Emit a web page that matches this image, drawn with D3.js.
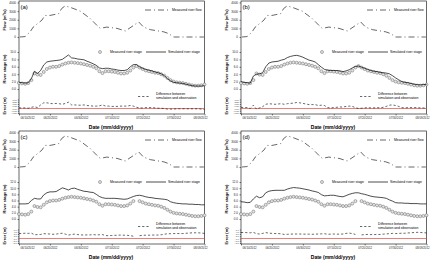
<!DOCTYPE html>
<html>
<head>
<meta charset="utf-8">
<script src="https://cdn.jsdelivr.net/npm/d3@7"></script>
<style>
  body { margin: 0; background: #fff; }
  svg { display: block; font-family: "Liberation Sans", Arial, sans-serif; }
</style>
</head>
<body>
<svg width="437" height="260"></svg>
<script>
// measured river flow (m3/s), sparse readings: day since start -> flow
const flowDay = [0.3, 2, 3.6, 4.6, 7.4, 8.4, 10, 12.8, 13.8, 14.9, 16.5, 19.8, 23, 25.2, 26.3, 28.4, 31.7, 34.4, 37.1, 38.7, 40.3, 42.5, 46.8, 48.4, 50, 54.4, 59.8];
const flowVal = [0, 50, 600, 1150, 1950, 2500, 2500, 2700, 3300, 3600, 3450, 3000, 2150, 1350, 1000, 1150, 1000, 700, 1350, 1750, 1150, 850, 600, 400, 0, 0, 0];

// daily river stage (m), day 0..60
const measuredStage = [1.6, 1.5, 1.4, 1.6, 2.4, 4.2, 3.9, 3.8, 4.6, 5.4, 5.8, 6.0, 6.0, 6.2, 6.6, 6.9, 7.1, 7.2, 7.1, 7.0,
  6.9, 6.7, 6.5, 6.3, 6.0, 5.6, 4.8, 4.3, 4.8, 4.8, 4.7, 4.6, 4.4, 4.2, 4.2, 4.4, 5.0, 5.8, 6.2, 5.8,
  5.4, 5.0, 4.8, 4.6, 4.4, 4.3, 4.0, 3.6, 3.0, 2.4, 2.0, 1.8, 1.7, 1.6, 1.4, 1.2, 1.0, 0.9, 0.9, 1.0, 1.2];
const simA = [1.8, 1.7, 1.6, 1.7, 2.8, 4.8, 4.2, 5.0, 6.5, 7.3, 7.5, 7.6, 7.7, 7.8, 8.0, 8.6, 9.2, 8.4, 8.3, 8.1,
  8.0, 7.9, 7.5, 7.2, 6.8, 6.4, 5.7, 5.5, 5.6, 5.6, 5.4, 5.3, 5.1, 5.0, 5.0, 5.2, 6.0, 6.6, 6.6, 6.0,
  5.6, 5.3, 5.1, 4.9, 4.6, 4.4, 4.1, 3.6, 2.8, 2.2, 1.8, 1.7, 1.6, 1.5, 1.3, 1.1, 0.9, 0.8, 0.8, 0.8, 0.9];
const simB = [2.0, 1.8, 1.7, 1.6, 3.5, 4.0, 4.1, 4.4, 6.0, 7.0, 7.3, 7.4, 7.5, 7.8, 8.0, 8.5, 8.8, 9.0, 9.1, 8.9,
  8.6, 8.2, 7.8, 7.6, 7.3, 6.6, 5.9, 5.3, 5.1, 5.0, 5.0, 5.0, 4.9, 4.7, 4.9, 5.2, 5.7, 6.1, 6.2, 5.9,
  5.6, 5.3, 5.0, 4.8, 4.7, 4.5, 4.4, 4.3, 4.1, 3.6, 3.0, 2.5, 2.0, 1.8, 1.7, 1.5, 1.3, 1.2, 1.1, 1.2, 1.2];
const simC = [4.9, 4.9, 4.9, 5.0, 6.0, 6.7, 6.5, 6.5, 7.8, 8.5, 8.8, 8.8, 8.9, 9.5, 10.1, 9.8, 9.4, 9.9, 10.0, 9.6,
  9.3, 9.0, 8.9, 8.7, 8.6, 8.0, 7.3, 6.9, 6.7, 6.7, 6.7, 6.7, 6.6, 6.5, 6.4, 6.5, 6.9, 7.3, 7.6, 7.7,
  7.5, 7.2, 7.0, 6.9, 6.7, 6.6, 6.5, 6.4, 6.2, 5.6, 5.3, 5.1, 5.0, 4.9, 4.9, 4.8, 4.8, 4.7, 4.7, 4.6, 4.6];
const simD = [5.6, 5.5, 5.3, 5.4, 6.5, 7.4, 6.9, 7.2, 8.5, 9.0, 9.2, 9.3, 9.3, 9.3, 9.3, 9.7, 10.0, 10.2, 10.1, 10.0,
  9.8, 9.6, 9.4, 9.1, 8.9, 8.6, 7.9, 7.5, 7.6, 7.7, 7.7, 7.5, 7.3, 7.2, 7.6, 8.0, 8.3, 8.5, 8.5, 8.2,
  8.0, 7.7, 7.4, 7.2, 7.1, 7.0, 6.9, 6.7, 6.2, 5.8, 5.3, 5.2, 5.2, 5.1, 5.1, 5.0, 5.0, 5.0, 4.9, 4.9, 4.9];

// x axis ticks
const dateTickDays = [0, 10, 20, 30, 40, 50, 60];
const dateLabels = ['06/10/2012', '06/20/2012', '06/30/2012', '07/10/2012', '07/20/2012', '07/30/2012', '08/09/2012'];
const flowTicks = [0, 1000, 2000, 3000, 4000];

const panels = [
  {label: '(a)', ox: 0, oy: 0, sim: simA, stageMax: 10, err: [-1.5, 3], errStep: 0.75, errFmt: '.2f', gap: []},
  {label: '(b)', ox: 222, oy: 0, sim: simB, stageMax: 10, err: [-1.5, 3], errStep: 0.75, errFmt: '.2f', gap: []},
  {label: '(c)', ox: 0, oy: 130, sim: simC, stageMax: 12, err: [-3, 6], errStep: 1.5, errFmt: '.1f', gap: [38]},
  {label: '(d)', ox: 222, oy: 130, sim: simD, stageMax: 12, err: [-3, 6], errStep: 1.5, errFmt: '.1f', gap: [38]},
];

const svg = d3.select('svg');
const L = 19, R = 204.5, T = 1, B = 114;

panels.forEach(p => {
  const g = svg.append('g').attr('transform', `translate(${p.ox}, ${p.oy})`);

  const x = d3.scaleLinear().domain([0, 60]).range([L, R]);
  const yFlow = d3.scaleLinear().domain([0, 4000]).range([37, 2.5]);
  const yStage = d3.scaleLinear().domain([0, p.stageMax]).range([89, 52]);
  const yErr = d3.scaleLinear().domain(p.err).range([113, 99.5]);

  // frame
  g.append('rect').attr('x', L).attr('y', T).attr('width', R - L).attr('height', B - T)
    .attr('fill', 'none').attr('stroke', '#000').attr('stroke-width', 0.6);

  const styleAxis = (size) => (sel) => {
    sel.select('.domain').remove();
    sel.selectAll('line').attr('stroke-width', 0.5);
    sel.selectAll('text').attr('font-size', size).attr('fill', '#222');
  };

  g.append('g').attr('transform', `translate(${L},0)`)
    .call(d3.axisLeft(yFlow).tickValues(flowTicks).tickSize(1.5).tickPadding(1.5).tickFormat(d3.format('d')))
    .call(styleAxis(3));

  g.append('g').attr('transform', `translate(${L},0)`)
    .call(d3.axisLeft(yStage).tickValues(d3.range(0, p.stageMax + 0.1, 2)).tickSize(1.5).tickPadding(1.5).tickFormat(d3.format('.1f')))
    .call(styleAxis(3));

  g.append('g').attr('transform', `translate(${L},0)`)
    .call(d3.axisLeft(yErr).tickValues(d3.range(p.err[0], p.err[1] + 0.01, p.errStep)).tickSize(1.2).tickPadding(1.2).tickFormat(d3.format(p.errFmt)))
    .call(styleAxis(2.1));

  const xAxis = g.append('g').attr('transform', `translate(0,${B})`)
    .call(d3.axisBottom(x).tickValues(dateTickDays).tickSize(1.5).tickPadding(1.8).tickFormat((d, i) => dateLabels[i]))
    .call(styleAxis(2.8));
  xAxis.selectAll('.tick').filter(d => d === dateTickDays[0]).select('text')
    .attr('text-anchor', 'start').attr('dx', 1);
  xAxis.selectAll('.tick').filter(d => d === dateTickDays[dateTickDays.length - 1]).select('text')
    .attr('text-anchor', 'end').attr('dx', 2.5);

  // axis titles
  const yTitle = (text, cy) => g.append('text')
    .attr('transform', `translate(5.5,${cy}) rotate(-90)`)
    .attr('text-anchor', 'middle').attr('font-size', 4).attr('font-weight', 'bold').text(text);
  yTitle('Flow (m³/s)', 20);
  yTitle('River stage (m)', 69);
  yTitle('Error (m)', 106);

  g.append('text').attr('x', 111).attr('y', 128.5).attr('text-anchor', 'middle')
    .attr('font-size', 5).attr('font-weight', 'bold').text('Date (mm/dd/yyyy)');

  g.append('text').attr('x', 20.5).attr('y', 8.5).attr('font-size', 6).text(p.label);

  // flow
  const flowData = flowDay.map((d, i) => ({day: d, v: flowVal[i]}));
  g.append('path').datum(flowData)
    .attr('d', d3.line().x(d => x(d.day)).y(d => yFlow(d.v)))
    .attr('fill', 'none').attr('stroke', '#000').attr('stroke-width', 0.6)
    .attr('stroke-dasharray', '6,3,1,3');

  // measured stage circles
  const meas = measuredStage.map((v, i) => ({day: i, v: p.gap.includes(i) ? null : v}));
  g.append('g').selectAll('circle').data(meas.filter(d => d.v !== null)).enter().append('circle')
    .attr('cx', d => x(d.day)).attr('cy', d => yStage(d.v)).attr('r', 1.5)
    .attr('fill', '#e4e4e4').attr('stroke', '#6f6f6f').attr('stroke-width', 0.55);

  // simulated stage
  g.append('path').datum(p.sim.map((v, i) => ({day: i, v})))
    .attr('d', d3.line().x(d => x(d.day)).y(d => yStage(d.v)))
    .attr('fill', 'none').attr('stroke', '#000').attr('stroke-width', 0.7);

  // zero error line
  g.append('line').attr('x1', L).attr('x2', R).attr('y1', yErr(0)).attr('y2', yErr(0))
    .attr('stroke', '#e2473f').attr('stroke-width', 0.7);

  // difference simulated - measured
  const diff = p.sim.map((v, i) => ({day: i, v: meas[i].v === null ? null : v - meas[i].v}));
  g.append('path').datum(diff)
    .attr('d', d3.line().defined(d => d.v !== null).x(d => x(d.day)).y(d => yErr(d.v)))
    .attr('fill', 'none').attr('stroke', '#000').attr('stroke-width', 0.6)
    .attr('stroke-dasharray', '2.2,2');

  // legends
  const lg = g.append('g').attr('font-size', 3.4);
  lg.append('line').attr('x1', 145).attr('x2', 170).attr('y1', 10).attr('y2', 10)
    .attr('stroke', '#000').attr('stroke-width', 0.6).attr('stroke-dasharray', '6,3,1,3');
  lg.append('text').attr('x', 172).attr('y', 11.2).text('Measured river flow');

  lg.append('circle').attr('cx', 100).attr('cy', 52).attr('r', 1.5)
    .attr('fill', '#e4e4e4').attr('stroke', '#6f6f6f').attr('stroke-width', 0.55);
  lg.append('text').attr('x', 110).attr('y', 53.2).text('Measured river stage');
  lg.append('line').attr('x1', 146).attr('x2', 166).attr('y1', 52).attr('y2', 52)
    .attr('stroke', '#000').attr('stroke-width', 0.7);
  lg.append('text').attr('x', 168).attr('y', 53.2).text('Simulated river stage');

  lg.append('line').attr('x1', 138).attr('x2', 150).attr('y1', 96.5).attr('y2', 96.5)
    .attr('stroke', '#000').attr('stroke-width', 0.6).attr('stroke-dasharray', '2.2,2');
  lg.append('text').attr('x', 156).attr('y', 95).text('Difference between');
  lg.append('text').attr('x', 156).attr('y', 99.2).text('simulation and observation');
});
</script>
</body>
</html>
